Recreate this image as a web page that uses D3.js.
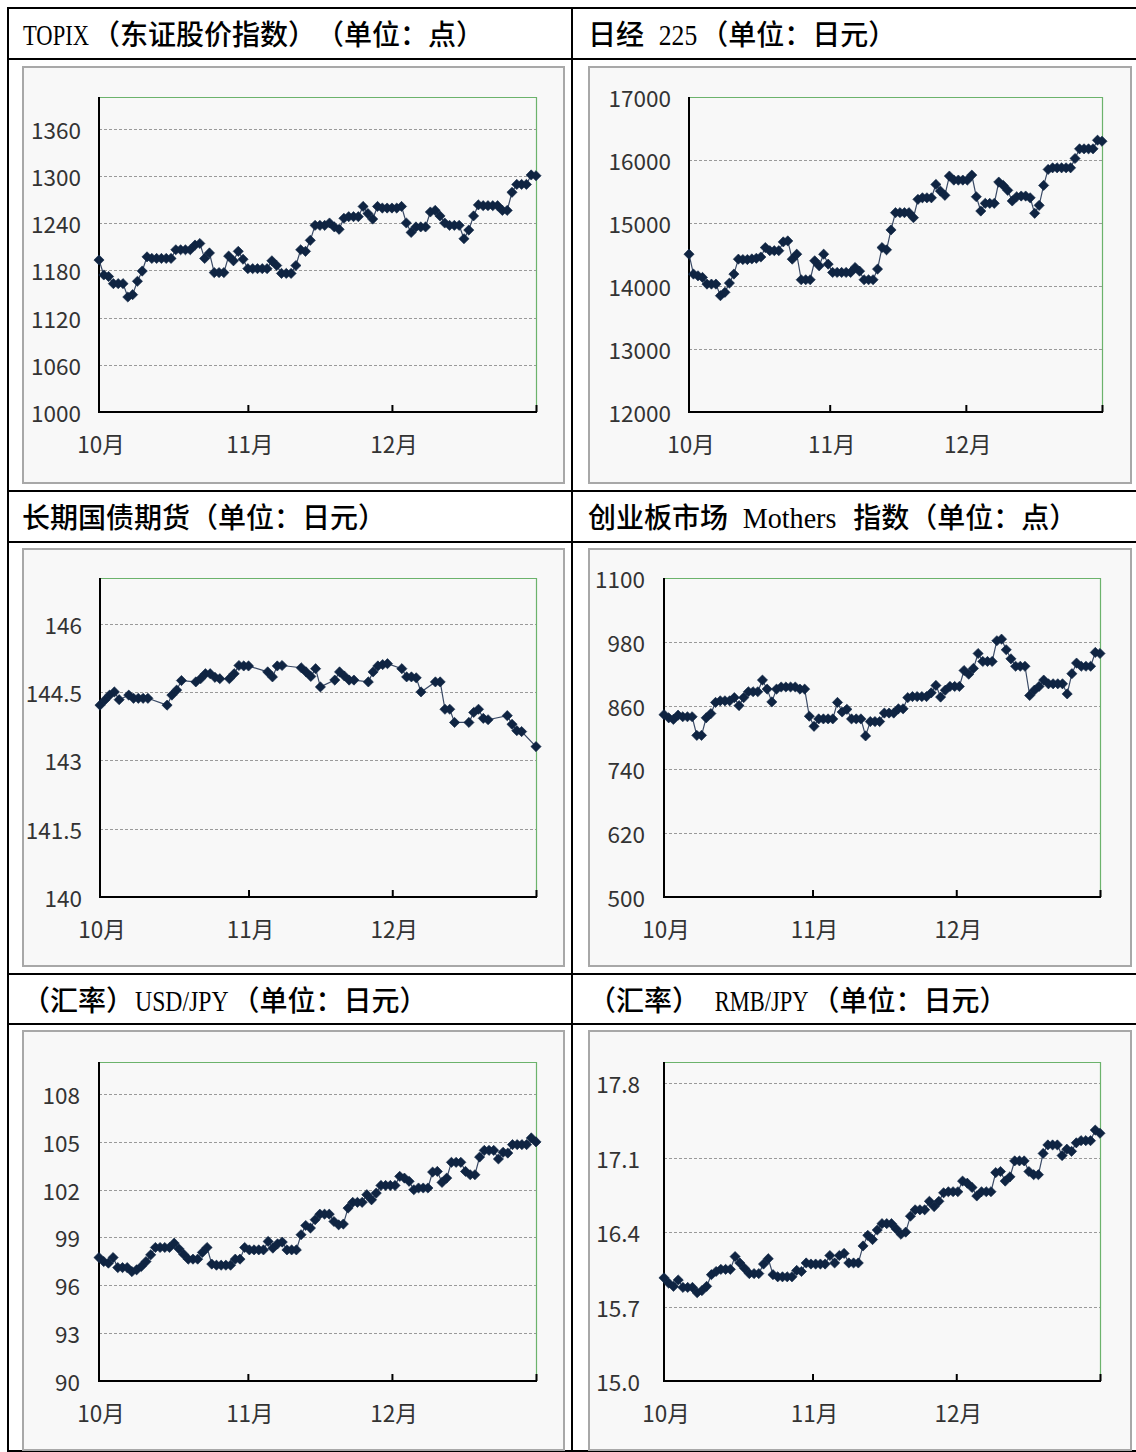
<!DOCTYPE html>
<html><head><meta charset="utf-8">
<script src="https://cdn.jsdelivr.net/npm/d3@7/dist/d3.min.js"></script>
<style>
html,body{margin:0;padding:0;background:#fff;}
svg{display:block;text-spacing-trim:space-all;}
.title{font-family:"Noto Sans CJK SC",sans-serif;font-size:28px;font-weight:500;fill:#000;text-spacing-trim:space-all;white-space:pre;}
.latin{font-family:"Liberation Serif",serif;font-size:30px;font-weight:400;}
.tick{font-family:"Noto Sans CJK JP","Noto Sans",sans-serif;font-size:22.5px;fill:#333;}
</style></head>
<body>
<svg id="chart" width="1136" height="1452"></svg>
<script>
// ---------- data ----------
const titles = [
  "TOPIX（东证股价指数）（单位：点）", "日经 225（单位：日元）",
  "长期国债期货（单位：日元）", "创业板市场 Mothers 指数（单位：点）",
  "（汇率）USD/JPY（单位：日元）", "（汇率） RMB/JPY（单位：日元）"
];
const monthLabels = ["10月", "11月", "12月"];
const monthStarts = ["2013-10-01", "2013-11-01", "2013-12-01"];
const periodEnd = "2013-12-31";

const topixTicks = [1000, 1060, 1120, 1180, 1240, 1300, 1360];
const nikkeiTicks = [12000, 13000, 14000, 15000, 16000, 17000];
const bondTicks = [140, 141.5, 143, 144.5, 146];
const mothersTicks = [500, 620, 740, 860, 980, 1100];
const usdTicks = [90, 93, 96, 99, 102, 105, 108];
const rmbTicks = [15.0, 15.7, 16.4, 17.1, 17.8];

const topix = [
  1193,1174,1172,1163,1163,1163,1146,1149,1166,1179,
  1197,1195,1195,1195,1195,1195,1206,1206,1206,1206,
  1212,1214,1195,1202,1177,1177,1177,1198,1192,1204,
  1194,1182,1182,1182,1182,1182,1192,1186,1176,1176,
  1176,1186,1206,1204,1218,1237,1237,1237,1240,1235,
  1232,1246,1248,1248,1248,1261,1252,1245,1261,1259,
  1259,1259,1259,1261,1240,1228,1235,1235,1235,1254,
  1256,1249,1240,1237,1237,1237,1220,1231,1249,1263,
  1262,1262,1262,1262,1256,1256,1279,1289,1289,1289,
  1301,1300
];
const nikkei = [
  14505,14189,14162,14136,14030,14030,14030,13846,13900,14046,
  14189,14426,14420,14420,14430,14440,14460,14610,14560,14560,
  14560,14700,14716,14426,14505,14099,14099,14099,14400,14320,
  14505,14347,14215,14215,14215,14215,14215,14294,14236,14099,
  14099,14099,14268,14610,14574,14890,15164,15164,15164,15164,
  15085,15375,15400,15400,15400,15612,15507,15439,15745,15681,
  15681,15681,15681,15760,15417,15190,15312,15312,15312,15650,
  15597,15518,15350,15417,15428,15428,15400,15154,15280,15597,
  15850,15876,15876,15876,15876,15876,16024,16177,16177,16177,
  16177,16314,16298
];
const bondDays = [
  0,1,2,3,4, 6,7,8,9,10, 14, 15,16,17, 20,21,22,23,24,25,
  27,28,29,30,31, 35,36,37,38, 42,43,44,45,46, 49,50,51,52,53,
  56,57,58,59,60, 63,64,65,66,67, 70,71,72,73,74, 77,78,79,80,81,
  85,86,87,88, 91
];
const bond = [
  144.21,144.32,144.43,144.5,144.33, 144.43,144.36,144.36,144.36,144.36, 144.21,
  144.43,144.54,144.75, 144.72,144.79,144.9,144.9,144.82,144.79,
  144.79,144.9,145.08,145.07,145.07, 144.94,144.83,145.07,145.08,
  145.03,144.94,144.84,145.01,144.61, 144.76,144.94,144.85,144.76,144.76,
  144.72,144.94,145.07,145.1,145.12, 145.01,144.83,144.83,144.81,144.5,
  144.72,144.72,144.12,144.12,143.83, 143.83,144.05,144.12,143.92,143.89,
  143.98,143.79,143.65,143.63, 143.3
];
const mothers = [
  843,837,834,842,839,839,839,804,804,837,
  845,866,869,869,869,875,860,875,886,886,
  886,908,891,867,891,895,895,895,895,891,
  891,840,821,835,835,835,835,866,848,853,
  835,835,835,803,830,830,830,846,846,846,
  854,854,875,877,877,877,877,884,898,876,
  889,896,896,896,926,919,930,958,943,943,
  943,982,985,965,948,934,934,934,879,889,
  896,908,901,901,901,901,882,920,940,934,
  934,934,960,958
];
const usdjpy = [
  97.74,97.49,97.39,97.74,97.11,97.11,97.11,96.86,96.97,97.18,
  97.49,97.91,98.37,98.37,98.37,98.37,98.64,98.29,97.95,97.64,
  97.64,97.64,98.06,98.37,97.33,97.26,97.26,97.26,97.26,97.64,
  97.64,98.37,98.22,98.22,98.22,98.22,98.75,98.33,98.6,98.71,
  98.22,98.22,98.22,99.17,99.75,99.59,100.11,100.46,100.46,100.46,
  100.0,99.79,99.84,100.84,101.2,101.2,101.2,101.68,101.36,101.78,
  102.26,102.26,102.26,102.26,102.83,102.72,102.52,101.99,102.1,102.1,
  102.1,103.1,103.14,102.45,102.72,103.71,103.71,103.71,103.14,102.93,
  102.93,104.04,104.46,104.46,104.46,103.92,104.34,104.29,104.82,104.82,
  104.82,104.82,105.24,104.99
];
const rmbjpy = [
  15.97,15.92,15.89,15.95,15.88,15.88,15.88,15.83,15.85,15.89,
  16.0,16.03,16.05,16.05,16.05,16.17,16.11,16.06,16.01,16.01,
  16.01,16.1,16.15,16.0,15.98,15.98,15.98,15.98,16.04,16.03,
  16.11,16.1,16.1,16.1,16.1,16.18,16.11,16.18,16.2,16.11,
  16.11,16.11,16.27,16.37,16.33,16.42,16.48,16.48,16.48,16.43,
  16.38,16.4,16.55,16.61,16.61,16.61,16.69,16.64,16.69,16.77,
  16.78,16.78,16.78,16.88,16.86,16.82,16.74,16.78,16.78,16.78,
  16.96,16.97,16.88,16.92,17.07,17.07,17.07,16.97,16.94,16.94,
  17.14,17.22,17.22,17.22,17.12,17.18,17.16,17.24,17.26,17.26,
  17.26,17.36,17.33
];

// ---------- layout ----------
const parse = d3.timeParse("%Y-%m-%d");
const start = parse(monthStarts[0]);
const end = parse(periodEnd);

const titleX = [22, 588];
const rowY = [8, 491, 974];   // title row tops
const latinAdvance = 13.8;    // half-width Latin glyph advance in titles

const charts = [
  {title: titles[0], col:0, row:0, values: topix, domain:[1000,1400], ticks: topixTicks, fmt: d3.format("d"),
   plot:{l:99, r:536, t:97, b:412}, labelR:81},
  {title: titles[1], col:1, row:0, values: nikkei, domain:[12000,17000], ticks: nikkeiTicks, fmt: d3.format("d"),
   plot:{l:689, r:1102, t:97, b:412}, labelR:671},
  {title: titles[2], col:0, row:1, values: bond, days: bondDays, domain:[140,147], ticks: bondTicks, fmt: d3.format(""),
   plot:{l:100, r:536, t:578, b:897}, labelR:82},
  {title: titles[3], col:1, row:1, values: mothers, domain:[500,1100], ticks: mothersTicks, fmt: d3.format("d"),
   plot:{l:664, r:1100, t:578, b:897}, labelR:645},
  {title: titles[4], col:0, row:2, values: usdjpy, domain:[90,110], ticks: usdTicks, fmt: d3.format("d"),
   plot:{l:99, r:536, t:1062, b:1381}, labelR:80},
  {title: titles[5], col:1, row:2, values: rmbjpy, domain:[15,18], ticks: rmbTicks, fmt: d3.format(".1f"),
   plot:{l:664, r:1100, t:1062, b:1381}, labelR:640}
];
const panelBox = [
  [{x:23,y:67,w:541,h:416},{x:589,y:67,w:542,h:416}],
  [{x:23,y:549,w:541,h:417},{x:589,y:549,w:542,h:417}],
  [{x:23,y:1031,w:541,h:419},{x:589,y:1031,w:542,h:419}]
];

const svg = d3.select("#chart");

// table grid
const grid = svg.append("g");
[8, 59, 491, 542, 974, 1024, 1451].forEach(y => {
  grid.append("line").attr("x1", 7).attr("x2", 1136).attr("y1", y).attr("y2", y)
    .attr("stroke", "#000").attr("stroke-width", 2);
});
[8, 572].forEach(x => {
  grid.append("line").attr("x1", x).attr("x2", x).attr("y1", 7).attr("y2", 1452)
    .attr("stroke", "#000").attr("stroke-width", 2);
});

const diamond = d3.symbol().type(d3.symbolSquare).size(52);

charts.forEach(c => {
  const g = svg.append("g");
  // title: runs of CJK and half-width Latin laid out one after another
  const tg = g.append("g");
  let cx = titleX[c.col];
  const baseY = rowY[c.row] + 37;
  c.title.split(/([\x20-\x7E]+)/).filter(s => s.length).forEach(s => {
    const isLatin = /^[\x20-\x7E]+$/.test(s);
    if (isLatin) {
      const lead = s.length - s.trimStart().length;
      const core = s.trim();
      const w = core.length * latinAdvance - 3;
      const x0 = cx + lead * latinAdvance + 1;
      const lt = tg.append("text").attr("class", "title latin")
        .attr("x", 0).attr("y", 0).text(core);
      const natural = lt.node().getComputedTextLength();
      lt.attr("transform", `translate(${x0},${baseY}) scale(${w / natural},1)`);
      cx += s.length * latinAdvance + 1;
    } else {
      const t = tg.append("text").attr("class", "title")
        .attr("x", cx).attr("y", baseY).text(s);
      cx += t.node().getComputedTextLength();
    }
  });
  // panel
  const pb = panelBox[c.row][c.col];
  g.append("rect").attr("x", pb.x).attr("y", pb.y).attr("width", pb.w).attr("height", pb.h)
    .attr("fill", "#f8f8f8").attr("stroke", "#a8a8a8").attr("stroke-width", 2);

  const p = c.plot;
  const y = d3.scaleLinear().domain(c.domain).range([p.b, p.t]);
  const xt = d3.scaleTime().domain([start, end]).range([p.l, p.r]);
  const xi = d3.scaleLinear().domain([0, c.values.length - 1]).range([p.l, p.r]);
  const xOf = c.days ? ((d, i) => xt(d3.timeDay.offset(start, c.days[i]))) : ((d, i) => xi(i));

  // gridlines
  g.append("g").selectAll("line").data(c.ticks.filter(t => t > c.domain[0] && t < c.domain[1]))
    .join("line")
    .attr("x1", p.l).attr("x2", p.r)
    .attr("y1", d => Math.round(y(d)) + 0.5).attr("y2", d => Math.round(y(d)) + 0.5)
    .attr("stroke", "#9a9a9a").attr("stroke-width", 1).attr("stroke-dasharray", "3,2");

  // green top/right border
  g.append("path")
    .attr("d", `M${p.l},${p.t + 0.5}H${p.r + 0.5}V${p.b}`)
    .attr("fill", "none").attr("stroke", "#6cb36c").attr("stroke-width", 1.2);

  // y tick labels
  g.append("g").selectAll("text").data(c.ticks).join("text")
    .attr("class", "tick")
    .attr("x", c.labelR).attr("y", d => y(d))
    .attr("text-anchor", "end").attr("dominant-baseline", "central")
    .text(d => c.fmt(d));

  // x axis with month ticks
  const tickDates = monthStarts.slice(1).map(parse).concat([end]);
  const xAxis = d3.axisBottom(xt).tickValues(tickDates).tickSize(-7).tickFormat("");
  const ax = g.append("g").attr("transform", `translate(0,${p.b})`).call(xAxis);
  ax.select(".domain").remove();
  ax.selectAll(".tick line").attr("stroke", "#000").attr("stroke-width", 2);
  // month labels
  g.append("g").selectAll("text").data(monthStarts).join("text")
    .attr("class", "tick")
    .attr("x", d => xt(parse(d)) + 2).attr("y", p.b + 31)
    .attr("text-anchor", "middle").attr("dominant-baseline", "central")
    .text((d, i) => monthLabels[i]);

  // axes lines
  g.append("path").attr("d", `M${p.l},${p.t}V${p.b}H${p.r + 1}`)
    .attr("fill", "none").attr("stroke", "#000").attr("stroke-width", 2);

  // series line
  const line = d3.line().x(xOf).y(d => y(d));
  g.append("path").datum(c.values).attr("d", line)
    .attr("fill", "none").attr("stroke", "#3a4a66").attr("stroke-width", 1.2);
  g.append("g").selectAll("path").data(c.values).join("path")
    .attr("d", diamond)
    .attr("transform", (d, i) => `translate(${xOf(d, i)},${y(d)}) rotate(45)`)
    .attr("fill", "#0f2442").attr("stroke", "#0f2442").attr("stroke-width", 0.6);
});
</script>
</body></html>
